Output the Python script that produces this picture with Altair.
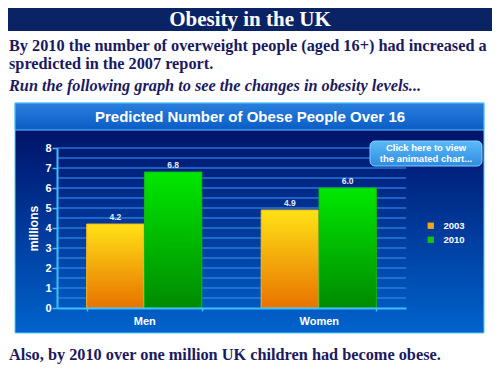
import altair as alt
import pandas as pd

# ---- data ----
groups = ["Men", "Women"]
years = ["2003", "2010"]
values_2003 = [4.2, 4.9]
values_2010 = [6.8, 6.0]
y_ticks = [0, 1, 2, 3, 4, 5, 6, 7, 8]
grid_values = [0.5, 1, 1.5, 2, 2.5, 3, 3.5, 4, 4.5, 5, 5.5, 6, 6.5, 7, 7.5, 8]

slide_title = "Obesity in the UK"
intro_line1 = "By 2010 the number of overweight people (aged 16+) had increased a"
intro_line2 = "spredicted in the 2007 report."
intro_italic = "Run the following graph to see the changes in obesity levels..."
footer = "Also, by 2010 over one million UK children had become obese."
chart_title = "Predicted Number of Obese People Over 16"
button_line1 = "Click here to view"
button_line2 = "the animated chart..."
y_title = "millions"

rows = []
for g, a, b in zip(groups, values_2003, values_2010):
    rows.append({"group": g, "year": years[0], "value": a})
    rows.append({"group": g, "year": years[1], "value": b})
df = pd.DataFrame(rows)
grid_df = pd.DataFrame({"v": grid_values})
one = pd.DataFrame({"k": [0]})

SERIF = "Liberation Serif"
SANS = "Liberation Sans"
NAVY_TEXT = "#1b1a60"


def grad(stops):
    return alt.LinearGradient(
        gradient="linear",
        stops=[alt.GradientStop(color=c, offset=o) for o, c in stops],
        x1=0, x2=0, y1=0, y2=1,
    )


def box(x, x2, y, y2, **props):
    return alt.Chart(one).mark_rect(**props).encode(
        x=alt.value(x), x2=alt.value(x2), y=alt.value(y), y2=alt.value(y2)
    )


def label(text, x, y, **props):
    return alt.Chart(one).mark_text(**props).encode(
        x=alt.value(x), y=alt.value(y), text=alt.value(text)
    )


# ---- shared encodings ----
x_enc = alt.X(
    "group:N",
    sort=groups,
    scale=alt.Scale(domain=groups, paddingInner=0.34, paddingOuter=0.17),
    axis=alt.Axis(
        title=None, labelAngle=0, labelColor="white", labelFont=SANS,
        labelFontWeight="bold", labelFontSize=11, labelPadding=4,
        domainColor="#3cc0ff", domainWidth=2, tickColor="#3cc0ff",
        tickSize=3, tickWidth=1.5, tickBand="extent", grid=False, zindex=1,
    ),
)
xo_enc = alt.XOffset("year:N", scale=alt.Scale(domain=years, paddingInner=0.01))
y_axis = alt.Axis(
    values=y_ticks, title=y_title, labelColor="white", labelFont=SANS,
    labelFontWeight="bold", labelFontSize=11, labelPadding=1,
    domainColor="#3cc0ff", domainWidth=2, tickColor="#3cc0ff", tickSize=5,
    tickWidth=1.5, grid=False, zindex=1, titleColor="white", titleFont=SANS,
    titleFontWeight="bold", titleFontSize=12, titlePadding=4,
)
y_scale = alt.Scale(domain=[0, 8], nice=False)
y_enc = alt.Y("value:Q", scale=y_scale, axis=y_axis)

# ---- decorations ----
banner = box(-70, 460, -160, -117, fill="#0a2364")
panel = box(-42, 427, -45, 185,
            fill=grad([(0, "#000a5c"), (0.3, "#00237f"), (1, "#0063cc")]),
            stroke="#5cc8ff", strokeWidth=1)
title_bar = box(-42, 427, -45, -18,
                fill=grad([(0, "#2c80dc"), (1, "#0a5cc6")]),
                stroke="#5cc8ff", strokeWidth=1)

stripes = alt.Chart(grid_df).mark_rule(color="#2a84e6", strokeWidth=1.6, opacity=0.85).encode(
    y=alt.Y("v:Q", scale=y_scale, axis=y_axis)
)

# ---- bars ----
base_bars = alt.Chart(df).mark_bar().encode(
    x=x_enc, xOffset=xo_enc, y=y_enc,
    color=alt.Color(
        "year:N",
        scale=alt.Scale(domain=years, range=["#f2a712", "#14c414"]),
        legend=alt.Legend(
            orient="none", legendX=369, legendY=73, title=None,
            labelColor="white", labelFont=SANS, labelFontWeight="bold",
            labelFontSize=9.5, symbolType="square", symbolSize=40,
            labelOffset=8, rowPadding=3, padding=0,
        ),
    ),
)
bars_2003 = alt.Chart(df).transform_filter(alt.datum.year == years[0]).mark_bar(
    fill=grad([(0, "#ffe216"), (1, "#e87200")]), stroke="#e9b326", strokeWidth=1
).encode(x=x_enc, xOffset=xo_enc, y=y_enc)
bars_2010 = alt.Chart(df).transform_filter(alt.datum.year == years[1]).mark_bar(
    fill=grad([(0, "#00e800"), (1, "#008a00")]), stroke="#14b414", strokeWidth=1
).encode(x=x_enc, xOffset=xo_enc, y=y_enc)

value_labels = alt.Chart(df).mark_text(
    dy=-7, baseline="middle", font=SANS, fontSize=8.5, fontWeight="bold", color="#e6eaff"
).encode(x=x_enc, xOffset=xo_enc, y=y_enc, text=alt.Text("value:Q", format=".1f"))

# ---- texts ----
t_title = label(slide_title, 193, -128, font=SERIF, fontSize=21, fontWeight="bold",
                color="white", align="center", baseline="middle")
t_l1 = label(intro_line1, -48, -102, font=SERIF, fontSize=16.3, fontWeight="bold",
             color=NAVY_TEXT, align="left", baseline="middle")
t_l2 = label(intro_line2, -48, -84, font=SERIF, fontSize=16.3, fontWeight="bold",
             color=NAVY_TEXT, align="left", baseline="middle")
t_l3 = label(intro_italic, -48, -62, font=SERIF, fontSize=16.3, fontWeight="bold",
             fontStyle="italic", color=NAVY_TEXT, align="left", baseline="middle")
t_foot = label(footer, -48, 207, font=SERIF, fontSize=16.3, fontWeight="bold",
               color=NAVY_TEXT, align="left", baseline="middle")
t_chart = label(chart_title, 193, -31, font=SANS, fontSize=15, fontWeight="bold",
                color="white", align="center", baseline="middle")

button = box(313, 425, -7, 18, fill=grad([(0, "#5cbaf8"), (1, "#2e8ce0")]),
             cornerRadius=5, stroke="#86ccff", strokeWidth=1)
t_b1 = label(button_line1, 369, 0, font=SANS, fontSize=9.5, fontWeight="bold",
             color="white", align="center", baseline="middle")
t_b2 = label(button_line2, 369, 11, font=SANS, fontSize=9.5, fontWeight="bold",
             color="white", align="center", baseline="middle")

chart = alt.layer(
    banner, panel, title_bar, stripes, base_bars, bars_2003, bars_2010,
    value_labels, t_title, t_l1, t_l2, t_l3, t_foot, t_chart, button, t_b1, t_b2,
).properties(
    width=349, height=160,
    autosize=alt.AutoSizeParams(type="none"),
    padding={"left": 49, "top": 140, "right": 86, "bottom": 59},
    background="white",
).configure_view(stroke=None)

chart.save("out.html", embed_options={"renderer": "svg", "actions": False})
